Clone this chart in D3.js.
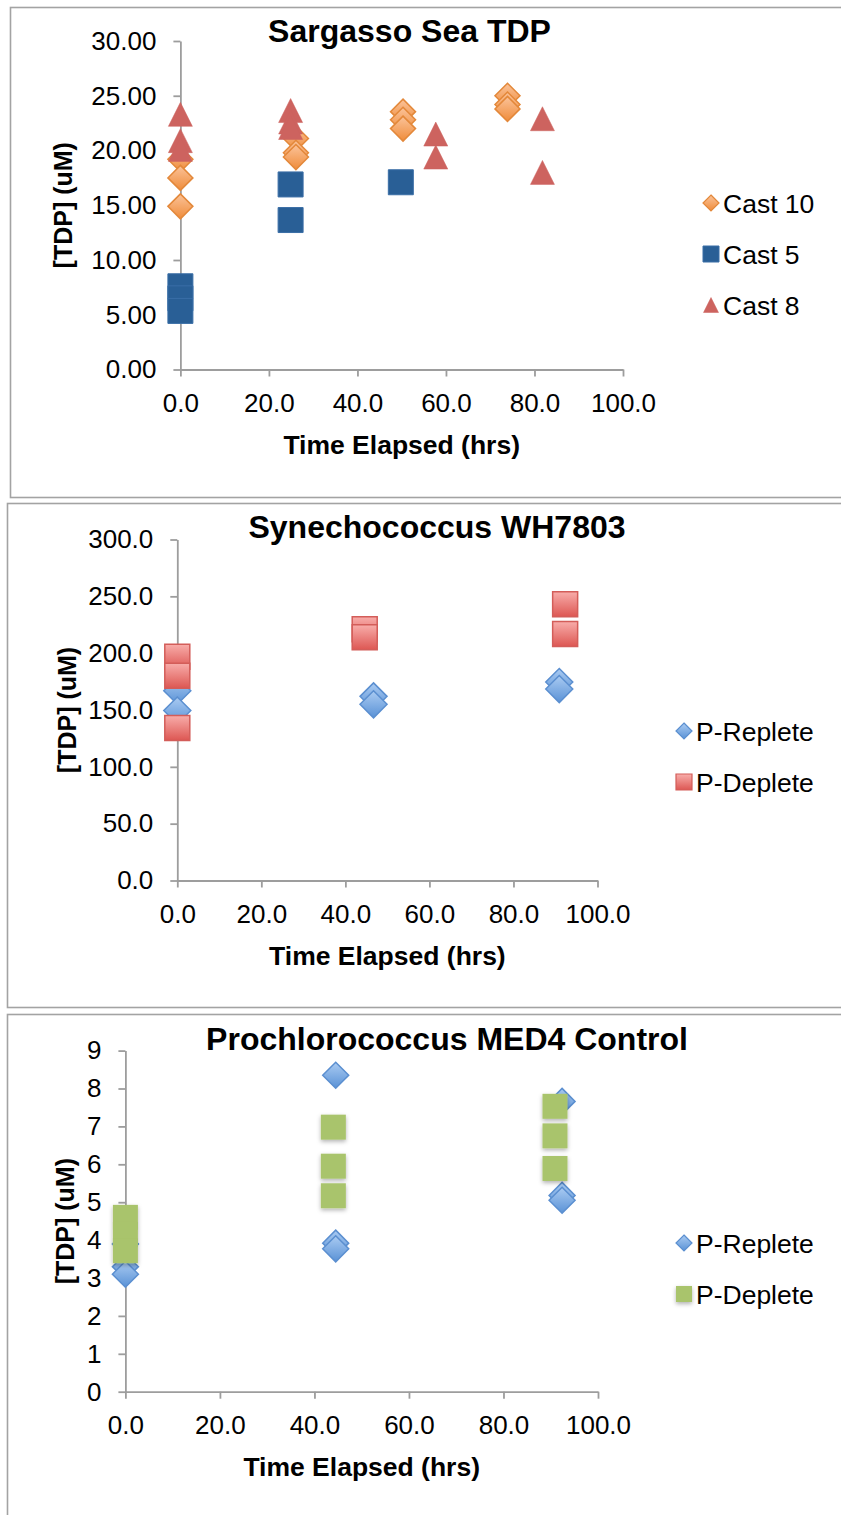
<!DOCTYPE html>
<html>
<head>
<meta charset="utf-8">
<script src="https://cdn.jsdelivr.net/npm/d3@7"></script>
<style>
  html, body { margin: 0; padding: 0; background: #fff; }
  svg { display: block; font-family: "Liberation Sans", Arial, sans-serif; }
</style>
</head>
<body>
<svg id="chart" width="841" height="1515"></svg>
<script>
// ---- Sargasso Sea TDP ----
const hoursTicks = [0, 20, 40, 60, 80, 100];
const sargassoTicksY = [0, 5, 10, 15, 20, 25, 30];
const cast10Hours = [0, 0, 0, 26.1, 26.1, 26.1, 50.3, 50.3, 50.3, 73.9, 73.9, 73.9];
const cast10TDP   = [19.2, 17.5, 14.9, 21.1, 19.8, 19.4, 23.55, 22.8, 22.0, 25.0, 24.2, 23.8];
const cast5Hours  = [0, 0, 0, 24.9, 24.9, 49.8];
const cast5TDP    = [7.6, 6.5, 5.35, 16.9, 13.65, 17.1];
const cast8Hours  = [0, 0, 0, 24.9, 24.9, 24.9, 57.7, 57.7, 81.8, 81.8];
const cast8TDP    = [23.3, 20.9, 20.1, 23.65, 22.6, 22.1, 21.5, 19.4, 22.9, 18.0];

// ---- Synechococcus WH7803 ----
const synTicksY = [0, 50, 100, 150, 200, 250, 300];
const synRepleteHours = [0, 0, 46.7, 46.7, 90.9, 90.9];
const synRepleteTDP   = [167, 149.5, 162, 155, 174.6, 168.4];
const synDepleteHours = [0, 0, 0, 44.6, 44.6, 92.3, 92.3];
const synDepleteTDP   = [196.9, 180.2, 134.2, 221, 214, 243.1, 216.9];

// ---- Prochlorococcus MED4 Control ----
const proTicksY = [0, 1, 2, 3, 4, 5, 6, 7, 8, 9];
const proRepleteHours = [0, 0, 0, 44.5, 44.5, 44.5, 92.4, 92.4, 92.4];
const proRepleteTDP   = [3.9, 3.3, 3.1, 8.35, 3.92, 3.77, 7.66, 5.18, 5.05];
const proDepleteHours = [0, 0, 0, 44.0, 44.0, 44.0, 90.9, 90.9, 90.9];
const proDepleteTDP   = [4.6, 4.15, 3.72, 6.98, 5.95, 5.17, 7.53, 6.75, 5.89];

const svg = d3.select("#chart");
const defs = svg.append("defs");

function vGrad(id, top, bottom) {
  const g = defs.append("linearGradient").attr("id", id)
    .attr("x1", 0).attr("y1", 0).attr("x2", 0).attr("y2", 1);
  g.append("stop").attr("offset", "0%").attr("stop-color", top);
  g.append("stop").attr("offset", "100%").attr("stop-color", bottom);
}
vGrad("gOrange", "#fbc39a", "#ef8c3a");
vGrad("gBlueDia", "#aacbf2", "#5a92d6");
vGrad("gRedSq", "#f8adaa", "#dd5753");

const shadow = defs.append("filter").attr("id", "softShadow")
  .attr("x", "-40%").attr("y", "-40%").attr("width", "180%").attr("height", "180%");
shadow.append("feDropShadow").attr("dx", 0).attr("dy", 2).attr("stdDeviation", 2)
  .attr("flood-color", "#000").attr("flood-opacity", 0.3);

// Marker shapes; size is the square of the marker's full width
const diamondType = { draw(ctx, size) { const r = Math.sqrt(size) / 2;
  ctx.moveTo(0, -r); ctx.lineTo(r, 0); ctx.lineTo(0, r); ctx.lineTo(-r, 0); ctx.closePath(); } };
const squareType = { draw(ctx, size) { const r = Math.sqrt(size) / 2;
  ctx.rect(-r, -r, 2 * r, 2 * r); } };
const triangleType = { draw(ctx, size) { const r = Math.sqrt(size) / 2;
  ctx.moveTo(0, -r); ctx.lineTo(r, r); ctx.lineTo(-r, r); ctx.closePath(); } };

const panels = [
  {
    box: { x: 10, y: 7, h: 490 },
    title: "Sargasso Sea TDP", titleX: 409.5, titleY: 42,
    xRange: [180.4, 623], yRange: [369.5, 41], yMax: 30,
    yTicks: sargassoTicksY, yFmt: d3.format(".2f"),
    yTitleX: 63,
    legendX: 711,
    legendY: [203, 254, 305],
    series: [
      { name: "Cast 10", hours: cast10Hours, tdp: cast10TDP, type: diamondType, size: 25, legendSize: 16,
        fill: "url(#gOrange)", stroke: "#e3883a", sw: 1.5 },
      { name: "Cast 5", hours: cast5Hours, tdp: cast5TDP, type: squareType, size: 25, legendSize: 16,
        fill: "#295f96", stroke: "#3a6ea6", sw: 1 },
      { name: "Cast 8", hours: cast8Hours, tdp: cast8TDP, type: triangleType, size: 24, legendSize: 15,
        fill: "#cd635f", stroke: "#cd635f", sw: 0.5 }
    ]
  },
  {
    box: { x: 7, y: 503, h: 504 },
    title: "Synechococcus WH7803", titleX: 437, titleY: 538,
    xRange: [177.3, 597.5], yRange: [880.5, 539.5], yMax: 300,
    yTicks: synTicksY, yFmt: d3.format(".1f"),
    yTitleX: 67,
    legendX: 684,
    legendY: [731, 782],
    series: [
      { name: "P-Replete", hours: synRepleteHours, tdp: synRepleteTDP, type: diamondType, size: 27, legendSize: 16,
        fill: "url(#gBlueDia)", stroke: "#5b8fd0", sw: 1.5 },
      { name: "P-Deplete", hours: synDepleteHours, tdp: synDepleteTDP, type: squareType, size: 25, legendSize: 16,
        fill: "url(#gRedSq)", stroke: "#d35d59", sw: 1.5 }
    ]
  },
  {
    box: { x: 7, y: 1014, h: 520 },
    title: "Prochlorococcus MED4 Control", titleX: 447, titleY: 1050,
    xRange: [125.4, 598], yRange: [1391.7, 1050.6], yMax: 9,
    yTicks: proTicksY, yFmt: d3.format("d"),
    yTitleX: 65,
    legendX: 684,
    legendY: [1243, 1294],
    series: [
      { name: "P-Replete", hours: proRepleteHours, tdp: proRepleteTDP, type: diamondType, size: 26, legendSize: 16,
        fill: "url(#gBlueDia)", stroke: "#5b8fd0", sw: 1.5 },
      { name: "P-Deplete", hours: proDepleteHours, tdp: proDepleteTDP, type: squareType, size: 25, legendSize: 16,
        fill: "#a9c46c", stroke: "none", sw: 0, filter: "url(#softShadow)" }
    ]
  }
];

const axisColor = "#9d9d9d";

panels.forEach(p => {
  // outer frame of the chart
  svg.append("rect")
    .attr("x", p.box.x + 0.5).attr("y", p.box.y + 0.5)
    .attr("width", 841 - p.box.x + 20).attr("height", p.box.h)
    .attr("fill", "#fff").attr("stroke", "#a3a3a3").attr("stroke-width", 1.6);

  const x = d3.scaleLinear().domain([0, 100]).range(p.xRange);
  const y = d3.scaleLinear().domain([0, p.yMax]).range(p.yRange);

  const yAxis = svg.append("g").attr("transform", `translate(${p.xRange[0]},0)`)
    .call(d3.axisLeft(y).tickValues(p.yTicks).tickFormat(p.yFmt)
      .tickSize(7).tickSizeOuter(0).tickPadding(17));
  const xAxis = svg.append("g").attr("transform", `translate(0,${p.yRange[0]})`)
    .call(d3.axisBottom(x).tickValues(hoursTicks).tickFormat(d3.format(".1f"))
      .tickSize(7).tickSizeOuter(0).tickPadding(17));

  [yAxis, xAxis].forEach(a => {
    a.select(".domain").attr("stroke", axisColor).attr("stroke-width", 1.8);
    a.selectAll(".tick line").attr("stroke", axisColor).attr("stroke-width", 1.8);
    a.selectAll(".tick text").attr("fill", "#000")
      .style("font-size", "26px").style("font-family", "'Liberation Sans', Arial, sans-serif");
  });

  // titles
  svg.append("text").attr("x", p.titleX).attr("y", p.titleY)
    .attr("text-anchor", "middle").style("font-weight", "bold").style("font-size", "32px")
    .text(p.title);
  const xMid = (p.xRange[0] + p.xRange[1]) / 2;
  svg.append("text").attr("x", xMid).attr("y", p.yRange[0] + 84)
    .attr("text-anchor", "middle").style("font-weight", "bold").style("font-size", "26.5px")
    .text("Time Elapsed (hrs)");
  const yMid = (p.yRange[0] + p.yRange[1]) / 2;
  svg.append("text")
    .attr("transform", `translate(${p.yTitleX + 9},${yMid}) rotate(-90)`)
    .attr("text-anchor", "middle").style("font-weight", "bold").style("font-size", "25px")
    .text("[TDP] (uM)");

  // points, series in order so later series sit on top
  p.series.forEach(s => {
    const sym = d3.symbol().type(s.type).size(s.size * s.size);
    svg.append("g").attr("filter", s.filter || null)
      .selectAll("path")
      .data(s.hours.map((h, i) => [h, s.tdp[i]]))
      .join("path")
      .attr("d", sym)
      .attr("transform", d => `translate(${x(d[0])},${y(d[1])})`)
      .attr("fill", s.fill).attr("stroke", s.stroke).attr("stroke-width", s.sw);
  });

  // legend
  p.series.forEach((s, i) => {
    const ly = p.legendY[i];
    svg.append("path")
      .attr("d", d3.symbol().type(s.type).size(s.legendSize * s.legendSize))
      .attr("transform", `translate(${p.legendX},${ly})`)
      .attr("fill", s.fill).attr("stroke", s.stroke).attr("stroke-width", Math.min(s.sw, 1.2))
      .attr("filter", s.filter || null);
    svg.append("text").attr("x", p.legendX + 12).attr("y", ly + 10)
      .style("font-size", "26.5px").text(s.name);
  });
});
</script>
</body>
</html>
